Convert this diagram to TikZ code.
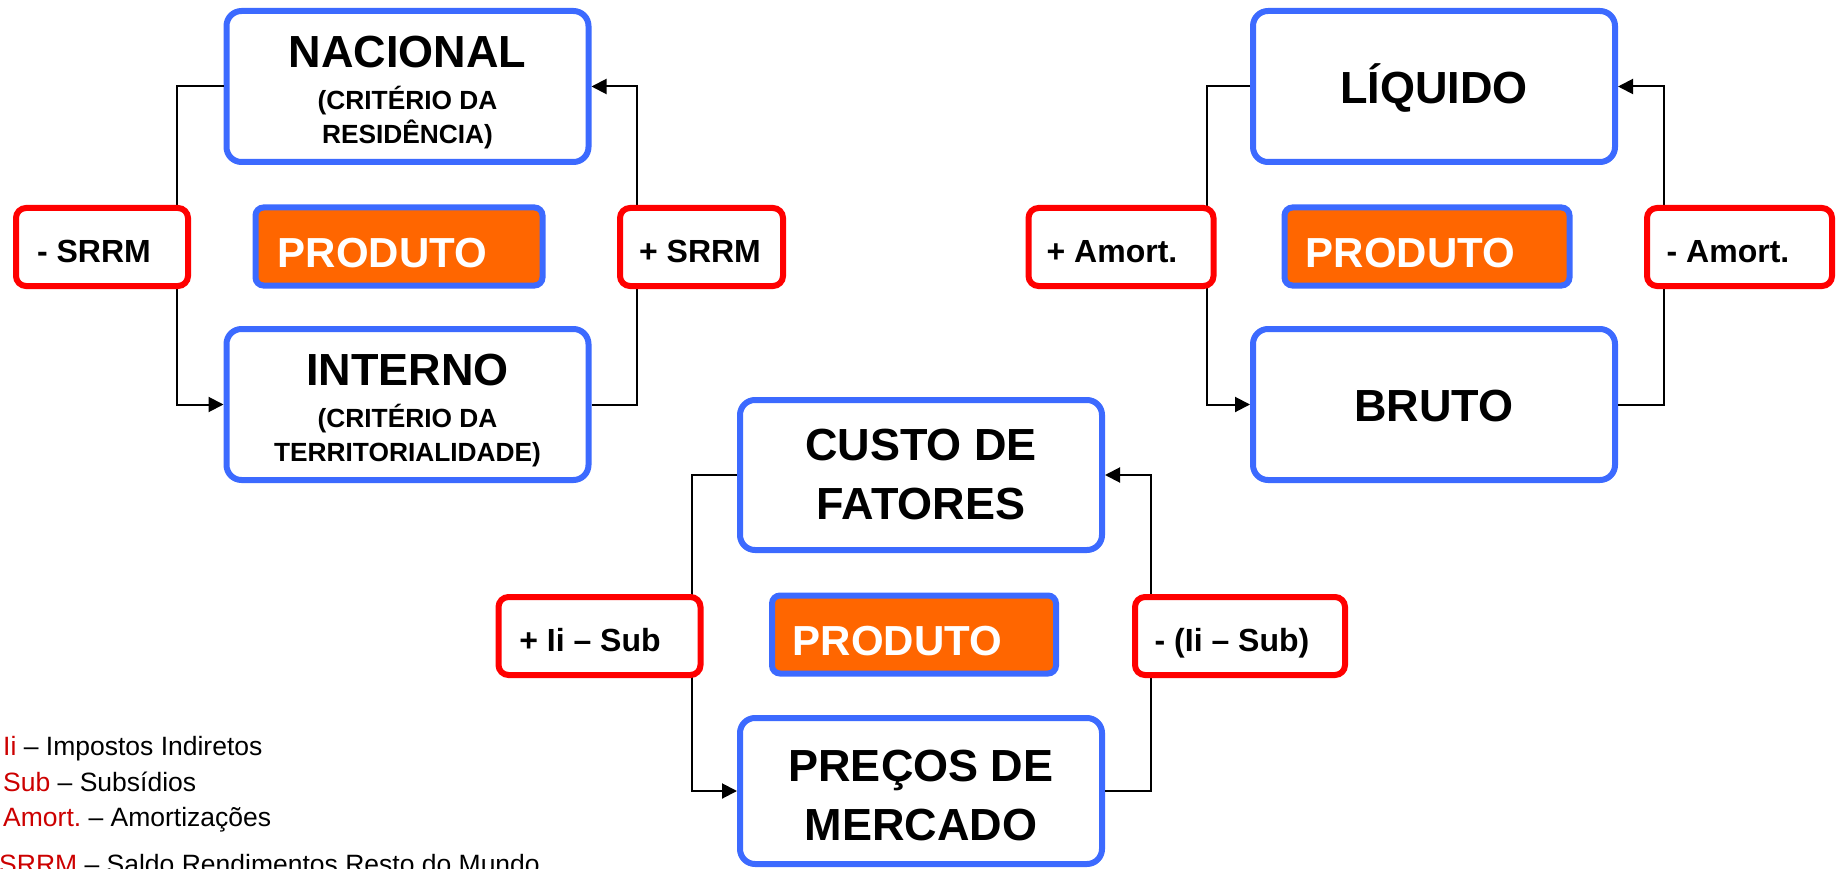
\documentclass[tikz,border=0pt]{standalone}
\usepackage{fontspec}
\setmainfont{Liberation Sans}
\frenchspacing
\usetikzlibrary{arrows.meta}
\definecolor{boxblue}{RGB}{60,106,255}
\definecolor{prodorange}{RGB}{255,102,0}
\definecolor{boxred}{RGB}{255,0,0}
\definecolor{legred}{RGB}{204,0,0}
\tikzset{
  bigbox/.style={draw=boxblue, line width=6pt, fill=white, rounded corners=15pt,
    minimum width=362pt, minimum height=151pt, inner sep=0pt, align=center},
  bigfont/.style={font=\bfseries\fontsize{45}{59}\selectfont},
  prodbox/.style={draw=boxblue, line width=6pt, fill=prodorange, rounded corners=8pt,
    minimum height=78pt, inner sep=0pt, text=white,
    font=\bfseries\fontsize{42}{42}\selectfont, text height=41pt, text depth=0pt},
  redbox/.style={draw=boxred, line width=6pt, fill=white, rounded corners=10pt,
    minimum height=78pt, inner sep=0pt,
    font=\bfseries\fontsize{32}{32}\selectfont, text height=30pt, text depth=0pt},
  conn/.style={draw=black, line width=2pt, -{Triangle[length=15pt,width=15pt]}},
  legend/.style={anchor=base west, inner sep=0pt, font=\fontsize{26.5}{30}\selectfont}
}
\begin{document}
\begin{tikzpicture}[x=1pt, y=-1pt]
\useasboundingbox (0,0) rectangle (1839,869);

% ---------- group 1: Nacional / Interno ----------
\node[bigbox, font=\bfseries\fontsize{26.3}{34}\selectfont] (nac) at (407.5,86.5)
  {\rule{0pt}{43pt}{\fontsize{45}{45}\selectfont NACIONAL}\\[8pt](CRITÉRIO DA\\RESIDÊNCIA)};
\node[bigbox, font=\bfseries\fontsize{26.3}{34}\selectfont] (int) at (407.5,404.5)
  {\rule{0pt}{43pt}{\fontsize{45}{45}\selectfont INTERNO}\\[8pt](CRITÉRIO DA\\TERRITORIALIDADE)};
\draw[conn] (nac.west) -- ++(-46.5,0) |- (int.west);
\draw[conn] (int.east) -- ++(45,0) |- (nac.east);
\node[prodbox, minimum width=287pt] (prodA) at (399,246.5) {PRODUTO\kern33pt};
\node[redbox, minimum width=172pt] (srrmL) at (102,247) {- SRRM\kern16pt};
\node[redbox, minimum width=163pt] (srrmR) at (701.5,247) {+ SRRM\kern3pt};

% ---------- group 2: Liquido / Bruto ----------
\node[bigbox, bigfont, text height=34pt, text depth=0pt] (liq) at (1434,86.5) {LÍQUIDO};
\node[bigbox, bigfont, text height=34pt, text depth=0pt] (bru) at (1434,404.5) {BRUTO};
\draw[conn] (liq.west) -- ++(-43,0) |- (bru.west);
\draw[conn] (bru.east) -- ++(46,0) |- (liq.east);
\node[prodbox, minimum width=285pt] (prodB) at (1427,246.5) {PRODUTO\kern33pt};
\node[redbox, minimum width=185pt] (amP) at (1121,247) {+ Amort.\kern18pt};
\node[redbox, minimum width=185pt] (amM) at (1739.5,247) {- Amort.\kern23pt};

% ---------- group 3: Custo de fatores / Precos de mercado ----------
\node[bigbox, bigfont, minimum height=150pt] (cus) at (921,475) {CUSTO DE\\FATORES};
\node[bigbox, bigfont, minimum height=146pt] (pre) at (921,791) {\rule{0pt}{41pt}PREÇOS DE\\MERCADO};
\draw[conn] (cus.west) -- ++(-45,0) |- (pre.west);
\draw[conn] (pre.east) -- ++(46,0) |- (cus.east);
\node[prodbox, minimum width=284pt] (prodC) at (914,634.5) {PRODUTO\kern33pt};
\node[redbox, minimum width=202pt] (iiP) at (599.5,636) {+ Ii – Sub\kern19pt};
\node[redbox, minimum width=210pt] (iiM) at (1240,636) {- (Ii – Sub)\kern16pt};

% ---------- legend ----------
\node[legend] (leg1) at (3,755) {\textcolor{legred}{Ii} – Impostos Indiretos};
\node[legend] (leg2) at (3,791) {\textcolor{legred}{Sub} – Subsídios};
\node[legend] (leg3) at (3,826) {\textcolor{legred}{Amort.} – Amortizações};
\node[legend] (leg4) at (-1,873) {\textcolor{legred}{SRRM} – Saldo Rendimentos Resto do Mundo};
\end{tikzpicture}
\end{document}
